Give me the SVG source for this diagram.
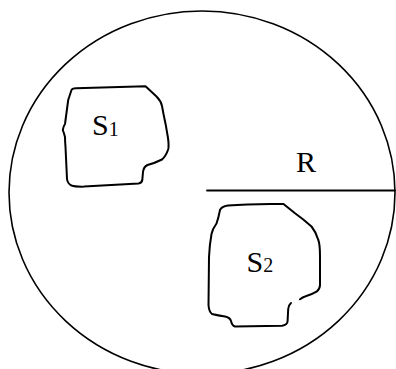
<svg xmlns="http://www.w3.org/2000/svg" width="396" height="369" viewBox="0 0 396 369">
<style>
.ln{fill:none;stroke:#000;stroke-linecap:round;stroke-linejoin:round}
.t{font-family:"Liberation Serif","Times New Roman",serif;fill:#000}
</style>
<rect width="396" height="369" fill="#fff"/>
<g id="disc">
<ellipse class="ln" cx="202" cy="192.5" rx="193" ry="181.5" stroke-width="1.6"/>
</g>
<g id="radius">
<line class="ln" x1="207" y1="190.5" x2="395" y2="190.5" stroke-width="1.8" stroke-linecap="butt"/>
<text class="t" x="296" y="172" font-size="30">R</text>
</g>
<g id="s1">
<path class="ln" stroke-width="2" d="M71.5,90 Q72,88.5 76,88.3 L145.5,86.2 L156.5,96.5 Q161,101 162,106 L163.5,114 Q166,125 168,138 Q169,145 168.3,149 Q166,156 162,159.5 Q155,163 147.5,165 Q143.5,167 143,172 L142.3,180 Q141.8,183 138.5,183.5 L84,186.6 Q75,186.8 71.5,185.5 Q67.5,183.5 67,179 L65.5,147 Q65,141 65,137 Q64,133 62.8,130 Q63.5,126 65,124 L68.2,100 Z"/>
<text class="t" x="92" y="134.5" font-size="30">S<tspan font-size="20" dy="1">1</tspan></text>
</g>
<g id="s2">
<path class="ln" stroke-width="2" d="M300,299.3 Q303,297 305,296.5 Q312,294.5 316.5,291.7 Q320,289 320,285 L320,257 Q320,244 318.3,240 Q316,232 311.5,226.5 Q303,219 295,213.3 L283.5,204 Q250,203.5 228,205.5 Q221.5,206.5 220,210 Q218.5,218 216.5,223.5 Q212.5,229 211.5,234 Q209.5,245 209,257 L208.5,305 Q209,312 212,314 Q218,315.5 225,316.5 Q230,317.5 231,321 Q232,325.5 235,326.5 L282,325.7 Q287.5,325 287.6,321 L288.2,309 Q288.6,305 291,303"/>
<text class="t" x="246.5" y="271.5" font-size="30">S<tspan font-size="20" dy="0.5">2</tspan></text>
</g>
</svg>
